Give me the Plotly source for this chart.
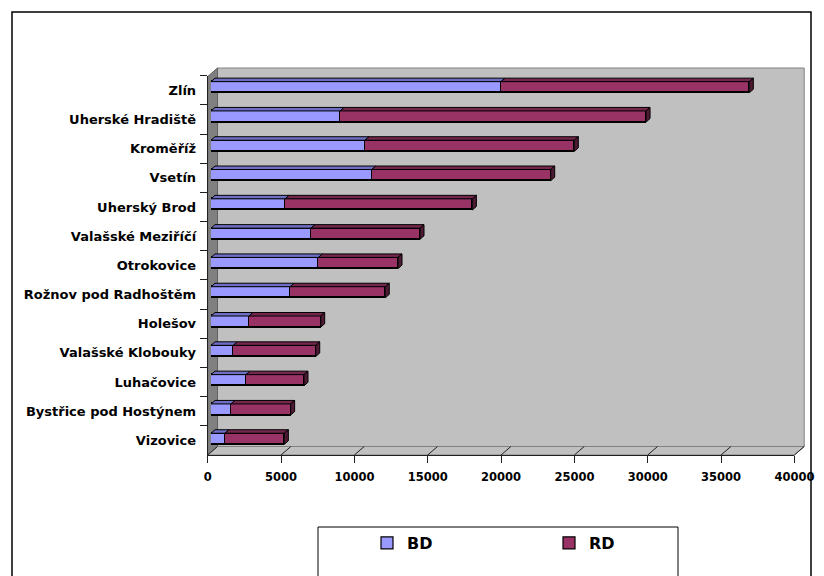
import plotly.graph_objects as go

# Housing completions by district town: apartment buildings (BD) and family houses (RD)
towns = ["Zlín", "Uherské Hradiště", "Kroměříž", "Vsetín", "Uherský Brod",
         "Valašské Meziříčí", "Otrokovice", "Rožnov pod Radhoštěm", "Holešov",
         "Valašské Klobouky", "Luhačovice", "Bystřice pod Hostýnem", "Vizovice"]
bd = [19770, 8800, 10500, 10960, 5050, 6820, 7320, 5390, 2590, 1520, 2390, 1360, 950]
rd = [16930, 20860, 14270, 12200, 12770, 7430, 5430, 6490, 4890, 5620, 3950, 4070, 4050]
x_ticks = [0, 5000, 10000, 15000, 20000, 25000, 30000, 35000, 40000]
series_names = ["BD", "RD"]

W, H = 824, 576
X_MAX = 40000

# pseudo-3D geometry (pixels)
FRONT_X0, BAR_X0, BACK_X0 = 207.7, 211.0, 217.5
SPAN = 586.7
FRONT_BOTTOM, BACK_BOTTOM = 455.0, 446.5
BACK_TOP, FRONT_TOP = 68.0, 76.5
BAR_TOP, BAR_BOTTOM = 72.55, 453.45
BAR_W = 0.38
DX = 4.0 / SPAN * X_MAX          # bar depth, horizontal, in data units
DY = 3.5 / ((BAR_BOTTOM - BAR_TOP) / len(towns))  # bar depth, vertical, in category units

BD_FRONT, BD_TOP = "#9999FF", "#6E6EC4"
RD_FRONT, RD_TOP, RD_SIDE = "#993366", "#74264D", "#4E1933"
WALL, SIDE_WALL = "#C0C0C0", "#808080"
CAT_FONT = dict(family="DejaVu Sans", size=13, color="black", weight="bold")
NUM_FONT = dict(family="DejaVu Sans", size=11.5, color="black", weight="bold")


def px(x):
    return x / W


def py(y):
    return 1 - y / H


fig = go.Figure()

ypos = list(range(len(towns)))
fig.add_trace(go.Bar(y=ypos, x=bd, name=series_names[0], orientation="h",
                     width=BAR_W, xaxis="x2", yaxis="y2",
                     marker=dict(color=BD_FRONT, line=dict(color="black", width=1.2))))
fig.add_trace(go.Bar(y=ypos, x=rd, name=series_names[1], orientation="h",
                     width=BAR_W, xaxis="x2", yaxis="y2",
                     marker=dict(color=RD_FRONT, line=dict(color="black", width=1.2))))
# carrier for the category axis labels on the front plane
fig.add_trace(go.Scatter(y=towns, x=[0] * len(towns), xaxis="x3", yaxis="y3",
                         mode="markers", marker=dict(opacity=0), showlegend=False,
                         hoverinfo="skip"))

shapes = []
# chart area border
shapes.append(dict(type="rect", xref="paper", yref="paper", layer="below",
                   x0=px(12), x1=px(811), y0=py(12), y1=py(620),
                   line=dict(color="black", width=1.5), fillcolor="white"))
# back wall
shapes.append(dict(type="rect", xref="paper", yref="paper", layer="below",
                   x0=px(BACK_X0), x1=px(BACK_X0 + SPAN), y0=py(BACK_BOTTOM), y1=py(BACK_TOP),
                   line=dict(color="#808080", width=1), fillcolor=WALL))
# side wall
shapes.append(dict(type="path", xref="paper", yref="paper", layer="below",
                   path=f"M {px(FRONT_X0)},{py(FRONT_TOP)} L {px(BACK_X0)},{py(BACK_TOP)} "
                        f"L {px(BACK_X0)},{py(BACK_BOTTOM)} L {px(FRONT_X0)},{py(FRONT_BOTTOM)} Z",
                   line=dict(color="#606060", width=1), fillcolor=SIDE_WALL))
# floor
shapes.append(dict(type="path", xref="paper", yref="paper", layer="below",
                   path=f"M {px(FRONT_X0)},{py(FRONT_BOTTOM)} L {px(BACK_X0)},{py(BACK_BOTTOM)} "
                        f"L {px(BACK_X0 + SPAN)},{py(BACK_BOTTOM)} "
                        f"L {px(FRONT_X0 + SPAN)},{py(FRONT_BOTTOM)} Z",
                   line=dict(color="#808080", width=1), fillcolor=WALL))
# floor tick lines running from the front axis to the back wall
for t in x_ticks:
    f = t / X_MAX
    shapes.append(dict(type="line", xref="paper", yref="paper", layer="below",
                       x0=px(FRONT_X0 + f * SPAN), y0=py(FRONT_BOTTOM),
                       x1=px(BACK_X0 + f * SPAN), y1=py(BACK_BOTTOM),
                       line=dict(color="#202020", width=1)))

# top and end faces of the stacked bars
for i, (b, r) in enumerate(zip(bd, rd)):
    total = b + r
    yt, yb = i - BAR_W / 2, i + BAR_W / 2
    shapes.append(dict(type="path", xref="x2", yref="y2", layer="above",
                       path=f"M 0,{yt} L {DX},{yt - DY} L {b + DX},{yt - DY} L {b},{yt} Z",
                       line=dict(color="black", width=1), fillcolor=BD_TOP))
    shapes.append(dict(type="path", xref="x2", yref="y2", layer="above",
                       path=f"M {b},{yt} L {b + DX},{yt - DY} L {total + DX},{yt - DY} L {total},{yt} Z",
                       line=dict(color="black", width=1), fillcolor=RD_TOP))
    shapes.append(dict(type="path", xref="x2", yref="y2", layer="above",
                       path=f"M {total},{yt} L {total + DX},{yt - DY} L {total + DX},{yb - DY} L {total},{yb} Z",
                       line=dict(color="black", width=1), fillcolor=RD_SIDE))

# legend frame
shapes.append(dict(type="rect", xref="paper", yref="paper", layer="below",
                   x0=px(318), x1=px(678), y0=py(527), y1=py(640),
                   line=dict(color="black", width=1), fillcolor="white"))

fig.update_layout(
    template="none",
    width=W, height=H, autosize=False,
    margin=dict(l=0, r=0, t=0, b=0, pad=0),
    paper_bgcolor="white", plot_bgcolor="rgba(0,0,0,0)",
    barmode="stack", bargap=0,
    shapes=shapes,
    showlegend=True,
    legend=dict(orientation="h", x=px(367), y=py(526), xanchor="left", yanchor="top",
                font=dict(family="DejaVu Sans", size=16, color="black", weight="bold"),
                entrywidth=137, entrywidthmode="pixels",
                bgcolor="rgba(0,0,0,0)", borderwidth=0, traceorder="normal"),
    # back wall grid
    xaxis=dict(domain=[px(BACK_X0), px(BACK_X0 + SPAN)], range=[0, X_MAX], anchor="y",
               showgrid=True, gridcolor="#1E1E1E", gridwidth=1, dtick=5000,
               zeroline=False, showticklabels=False, ticks="", showline=False,
               automargin=False, fixedrange=True),
    yaxis=dict(domain=[py(BACK_BOTTOM), py(BACK_TOP)], range=[0, 1], anchor="x",
               visible=False, automargin=False, fixedrange=True),
    # bars
    xaxis2=dict(domain=[px(BAR_X0), px(BAR_X0 + SPAN)], range=[0, X_MAX], anchor="y2",
                visible=False, automargin=False, fixedrange=True),
    yaxis2=dict(domain=[py(BAR_BOTTOM), py(BAR_TOP)], range=[len(towns) - 0.5, -0.5],
                anchor="x2", visible=False, automargin=False, fixedrange=True),
    # front axes with labels
    xaxis3=dict(domain=[px(FRONT_X0), px(FRONT_X0 + SPAN)], range=[0, X_MAX], anchor="y3",
                tickvals=x_ticks, ticktext=[str(t) for t in x_ticks],
                ticks="outside", ticklen=7, tickcolor="#202020", tickwidth=1,
                ticklabelstandoff=4,
                showline=True, linecolor="#202020", linewidth=1,
                showgrid=False, zeroline=False, tickfont=NUM_FONT,
                automargin=False, fixedrange=True),
    yaxis3=dict(domain=[py(FRONT_BOTTOM), py(FRONT_TOP - 0.8)], anchor="x3",
                type="category", categoryorder="array", categoryarray=towns,
                range=[len(towns) - 0.5, -0.5], tickson="boundaries",
                ticks="outside", ticklen=7, tickcolor="#202020", tickwidth=1,
                ticklabelstandoff=8,
                showline=True, linecolor="#202020", linewidth=1,
                showgrid=False, zeroline=False, tickfont=CAT_FONT,
                automargin=False, fixedrange=True),
)

fig.write_html("out.html")
